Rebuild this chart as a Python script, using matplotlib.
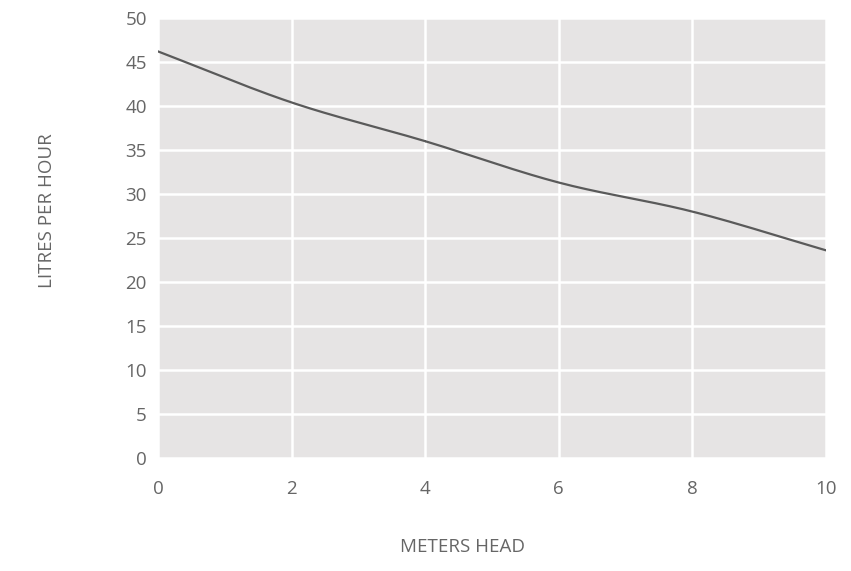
import numpy as np
import matplotlib
matplotlib.use("Agg")
import matplotlib.pyplot as plt

# data
meters_head = [0, 2, 4, 6, 8, 10]
litres_per_hour = [46.2, 40.4, 36.0, 31.3, 28.0, 23.6]


def smooth(xs, ys, n=30):
    # catmull-rom style rendering between the data points
    xs = np.asarray(xs, float)
    ys = np.asarray(ys, float)
    px = np.concatenate([[2 * xs[0] - xs[1]], xs, [2 * xs[-1] - xs[-2]]])
    py = np.concatenate([[2 * ys[0] - ys[1]], ys, [2 * ys[-1] - ys[-2]]])
    out_x, out_y = [], []
    t = np.linspace(0, 1, n)
    for i in range(1, len(px) - 2):
        for p, out in ((px, out_x), (py, out_y)):
            p0, p1, p2, p3 = p[i - 1], p[i], p[i + 1], p[i + 2]
            out.extend(0.5 * (2 * p1 + (-p0 + p2) * t
                              + (2 * p0 - 5 * p1 + 4 * p2 - p3) * t ** 2
                              + (-p0 + 3 * p1 - 3 * p2 + p3) * t ** 3))
    return out_x, out_y


plt.rcParams['font.family'] = ['Open Sans', 'DejaVu Sans']
text_color = '#666666'

fig = plt.figure(figsize=(8.51, 5.71), dpi=100)
ax = fig.add_axes([0.1857, 0.1979, 0.7849, 0.7706])
ax.set_facecolor('#e6e4e4')

sx, sy = smooth(meters_head, litres_per_hour)
ax.plot(sx, sy, color='#5a5a5a', linewidth=1.6, zorder=3)

ax.set_xlim(0, 10)
ax.set_ylim(0, 50)
ax.set_xticks(range(0, 11, 2))
ax.set_yticks(range(0, 51, 5))
ax.grid(True, color='white', linewidth=1.8)
ax.set_axisbelow(True)
for s in ax.spines.values():
    s.set_visible(False)
ax.tick_params(length=0, labelsize=13.5, colors=text_color)
ax.tick_params(axis='x', pad=16)
ax.tick_params(axis='y', pad=8)

fig.text(0.544, 0.042, 'METERS HEAD', ha='center', va='center',
         fontsize=13.5, color=text_color)
fig.text(0.055, 0.632, 'LITRES PER HOUR', ha='center', va='center',
         rotation=90, fontsize=13.5, color=text_color)

fig.savefig('out.png', dpi=100)
